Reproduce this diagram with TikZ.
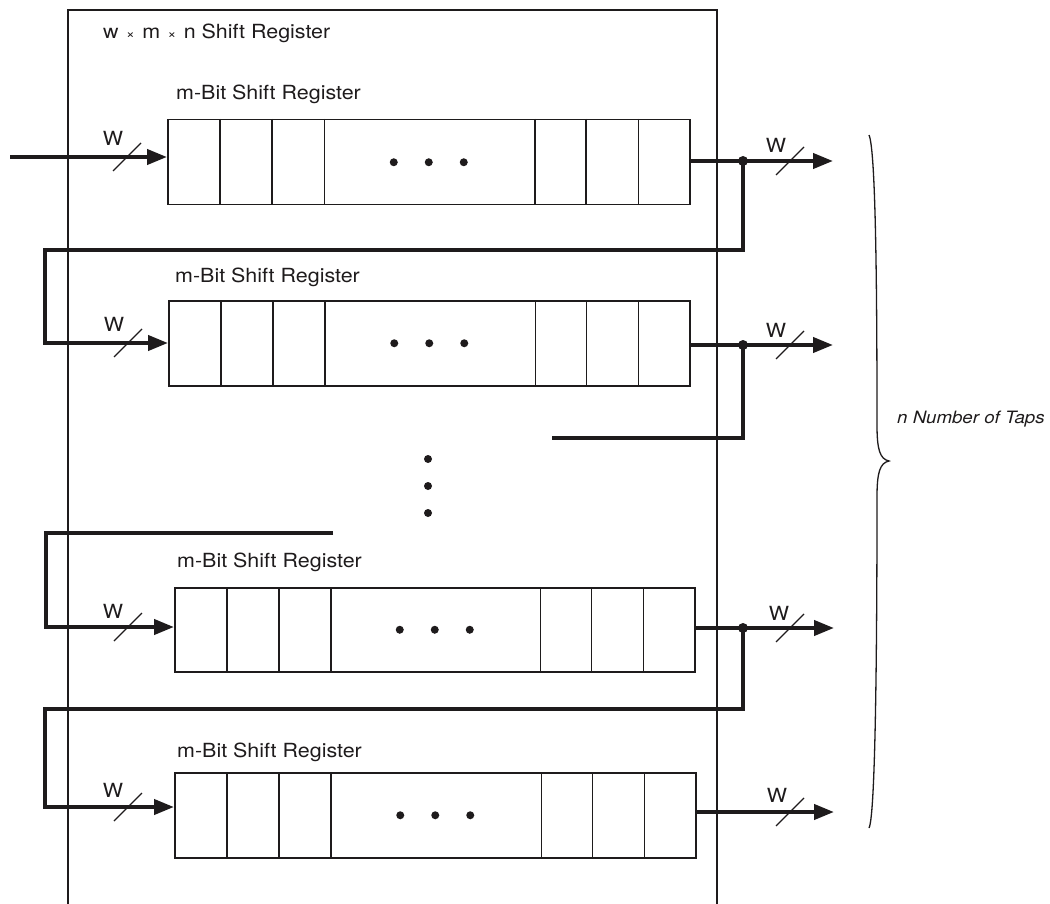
\documentclass[tikz,border=0pt]{standalone}
\usepackage{fontspec}
\setmainfont{TeX Gyre Heros}[FakeStretch=1.1]
\usetikzlibrary{arrows.meta,calc}
\definecolor{ink}{RGB}{30,27,28}
\newcommand\shreg[5]{%
  \node[regbox, minimum width=#4pt, minimum height=#5pt] (#1) at (#2,#3) {};
  \foreach \fr in {0.1015,0.2011,0.3008,0.7031,0.8008,0.9004}
    \draw[cell] ($(#1.north west)!\fr!(#1.north east)$) -- ($(#1.south west)!\fr!(#1.south east)$);
  \foreach \dd in {-35,0,35} \fill[ink] ($(#1.center)+(\dd,0)$) circle (4pt);
}
\newcommand\wslash[2]{\draw[thin] (#1-14,#2+14) -- (#1+14,#2-14);}
\newcommand\tms{\hspace{1.5pt}{\fontsize{13.5}{14}\selectfont ×}\hspace{1.5pt}}
\begin{document}
\begin{tikzpicture}[x=1pt,y=-1pt,
  wire/.style={line width=4pt, draw=ink},
  thin/.style={line width=1.3pt, draw=ink},
  cell/.style={line width=1.6pt, draw=ink},
  regbox/.style={draw=ink, line width=1.5pt, rectangle, inner sep=0pt, anchor=north west},
  arr/.style={-{Triangle[length=20pt,width=15pt]}},
  lbl/.style={font=\fontsize{19.5}{22}\selectfont, inner sep=0pt, text=ink},
  jdot/.style={circle, fill=ink, inner sep=0pt, minimum size=10pt}
]
\useasboundingbox (0,0) rectangle (1050,904);
% outer box (open at the bottom of the picture)
\draw[thin] (68,904) -- (68,10) -- (717,10) -- (717,904);
\node[lbl, anchor=base west] (title) at (103,39) {w \tms{} m \tms{} n Shift Register};

% registers
\shreg{r1}{167}{119}{522}{85}
\shreg{r2}{168}{300}{521}{85}
\shreg{r3}{174}{587}{520}{84}
\shreg{r4}{174}{772}{521}{85}

\node[lbl, anchor=base west] (t1) at (176,100) {m-Bit Shift Register};
\node[lbl, anchor=base west] (t2) at (175,283) {m-Bit Shift Register};
\node[lbl, anchor=base west] (t3) at (177,567) {m-Bit Shift Register};
\node[lbl, anchor=base west] (t4) at (177,757) {m-Bit Shift Register};

% input levels and outputs
\coordinate (in1) at (10,157);
\coordinate (i2) at (0,343);
\coordinate (i3) at (0,627);
\coordinate (i4) at (0,807);
\coordinate (o1) at (833,161);
\coordinate (o2) at (833,345);
\coordinate (o3) at (834,628);
\coordinate (o4) at (834,812);
\coordinate (j1) at (743,161);
\coordinate (j2) at (743,345);
\coordinate (j3) at (743,628);
\coordinate (c1) at (45,250);
\coordinate (s2) at (552,438);
\coordinate (s3) at (333,533);
\coordinate (c3) at (46,533);
\coordinate (c4) at (45,709);

% inputs
\draw[wire,arr] (in1) -- (r1.west |- in1);
\draw[wire,arr] (j1) |- (c1) |- (r2.west |- i2);
\draw[wire,arr] (s3) -- (c3) |- (r3.west |- i3);
\draw[wire,arr] (j3) |- (c4) |- (r4.west |- i4);
\draw[wire] (j2) |- (s2);

% outputs
\draw[wire,arr] (r1.east |- o1) -- (o1);
\draw[wire,arr] (r2.east |- o2) -- (o2);
\draw[wire,arr] (r3.east |- o3) -- (o3);
\draw[wire,arr] (r4.east |- o4) -- (o4);
\node[jdot] (d1) at (j1) {};
\node[jdot] (d2) at (j2) {};
\node[jdot] (d3) at (j3) {};

% bus-width slashes and labels
\wslash{127}{157}
\wslash{128}{343}
\wslash{128}{627}
\wslash{128}{807}
\wslash{790}{161}
\wslash{790}{345}
\wslash{790}{628}
\wslash{790}{812}
\node[lbl, anchor=base] (w1) at (113,146) {W};
\node[lbl, anchor=base] (w2) at (114,331) {W};
\node[lbl, anchor=base] (w3) at (113,618) {W};
\node[lbl, anchor=base] (w4) at (113,797) {W};
\node[lbl, anchor=base] (v1) at (776,153) {W};
\node[lbl, anchor=base] (v2) at (776,337) {W};
\node[lbl, anchor=base] (v3) at (779,620) {W};
\node[lbl, anchor=base] (v4) at (777,802) {W};

% vertical ellipsis
\fill[ink] (428,459) circle (4pt);
\fill[ink] (428,486) circle (4pt);
\fill[ink] (428,513) circle (4pt);

% brace
\draw[thin, line width=1.3pt] (869,135) .. controls (876,150) and (877,300) .. (877,425)
  .. controls (877,450) and (880,459) .. (889,461)
  .. controls (880,463) and (877,472) .. (877,497)
  .. controls (877,620) and (876,815) .. (869,828);
\node[lbl, anchor=base west, font=\itshape\fontsize{17}{20}\selectfont] (taps) at (897,423) {n Number of Taps};
\end{tikzpicture}
\end{document}
